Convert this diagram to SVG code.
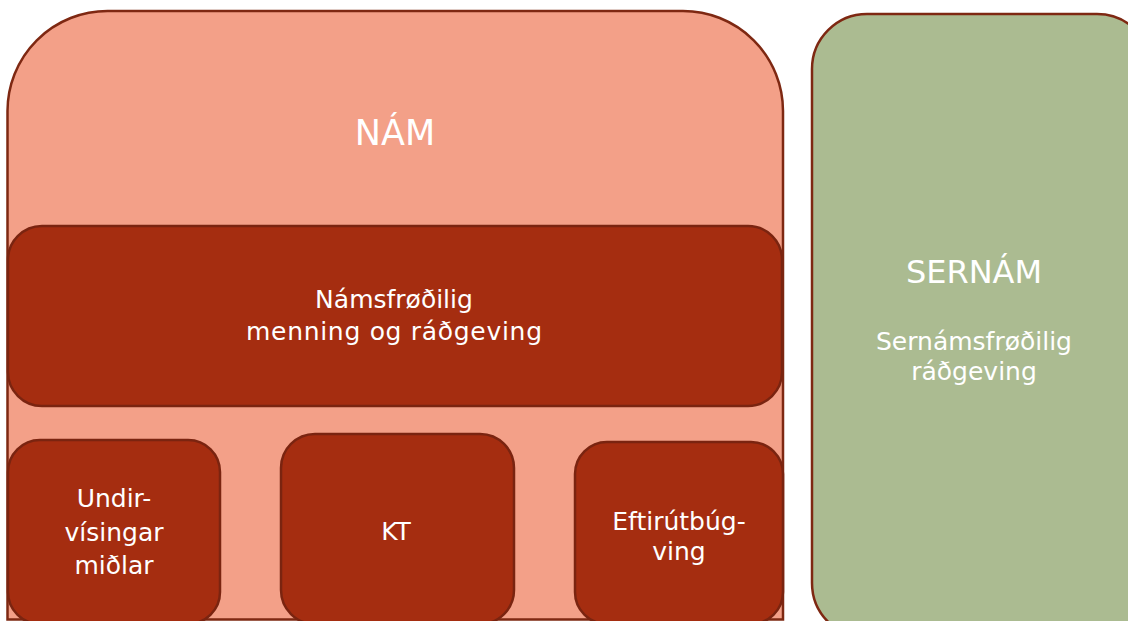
<svg xmlns="http://www.w3.org/2000/svg" width="1128" height="621" viewBox="0 0 1128 621">
<style>
.outer{fill:#F3A088;stroke:#7E2812;stroke-width:2.5}
.inner{fill:#A52D10;stroke:#7A2410;stroke-width:2.5}
.green{fill:#ABBB91;stroke:#7E2812;stroke-width:2.5}
text{font-family:"DejaVu Sans","Liberation Sans",sans-serif;fill:#FFFFFF;text-anchor:middle}
.big{font-size:32px}
.mid{font-size:25px}
</style>
<rect width="1128" height="621" fill="#FFFFFF"/>
<g id="nam">
<path class="outer" d="M7.5,619.5 V111 A100,100 0 0 1 107.5,11 H683 A100,100 0 0 1 783,111 V619.5 Z"/>
<text class="big" x="395" y="145" style="font-size:35px">NÁM</text>
</g>
<g id="namsfrodilig">
<rect class="inner" x="8" y="226" width="774" height="180" rx="34"/>
<text class="mid" x="394" y="308">Námsfrøðilig</text>
<text class="mid" x="394" y="340" textLength="296" lengthAdjust="spacing">menning og ráðgeving</text>
</g>
<g id="undirvisingar">
<rect class="inner" x="8" y="440" width="212" height="184" rx="32"/>
<text class="mid" x="114" y="507">Undir-</text>
<text class="mid" x="114" y="541">vísingar</text>
<text class="mid" x="114" y="574">miðlar</text>
</g>
<g id="kt">
<rect class="inner" x="281" y="434" width="233" height="190" rx="34"/>
<text class="mid" x="396" y="540">KT</text>
</g>
<g id="eftirutbugving">
<rect class="inner" x="575" y="442" width="208" height="182" rx="32"/>
<text class="mid" x="679" y="530">Eftirútbúg-</text>
<text class="mid" x="679" y="560">ving</text>
</g>
<g id="sernam">
<rect class="green" x="812" y="14" width="340" height="624" rx="55"/>
<text class="big" x="974" y="283">SERNÁM</text>
<text class="mid" x="974" y="350">Sernámsfrøðilig</text>
<text class="mid" x="974" y="380">ráðgeving</text>
</g>
<g id="connectors"></g>
</svg>
